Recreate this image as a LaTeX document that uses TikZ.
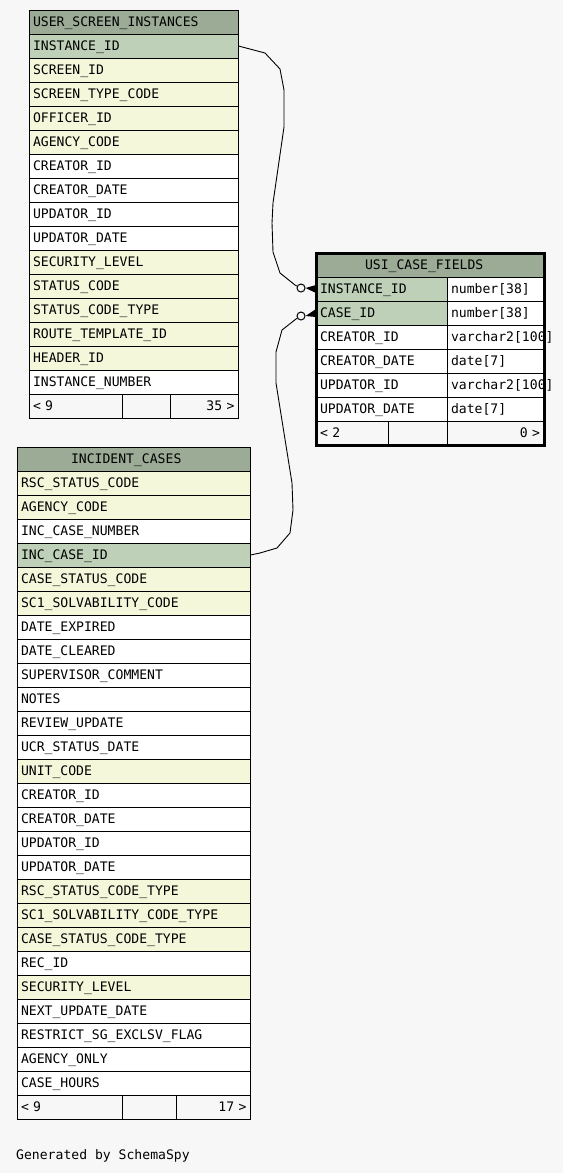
\documentclass[tikz,border=0pt]{standalone}
\usepackage{fontspec}
\usepackage{tikz}
\usetikzlibrary{calc,positioning}
\newfontfamily\schemafont{DejaVu Sans Mono}
\newcommand{\colfont}{\schemafont\fontsize{13.1}{15}\selectfont}
\definecolor{bgcol}{HTML}{F7F7F7}
\definecolor{headcol}{HTML}{9BAB96}
\definecolor{pkcol}{HTML}{BED1B8}
\definecolor{ixcol}{HTML}{F4F7DA}
\tikzset{
  cell/.style={draw=black, line width=1pt, anchor=north west, outer sep=0pt,
               inner xsep=4pt, inner ysep=0pt, minimum height=24pt,
               text height=9.6pt, text depth=0pt, font=\colfont, align=left},
  headcell/.style={cell, fill=headcol},
  footcell/.style={cell, fill=bgcol},
  ring/.style={circle, draw=black, fill=bgcol, line width=1pt,
               minimum size=8pt, inner sep=0pt},
  relline/.style={black, line width=0.9pt},
}

\begin{document}
\begin{tikzpicture}[x=1pt,y=-1pt]
  \fill[bgcol] (0,0) rectangle (563,1173);
  \useasboundingbox (0,0) rectangle (563,1173);
  % USER_SCREEN_INSTANCES tablosu
  \node[headcell, text width=201.5pt] (usihead) at (29,10) {USER\_SCREEN\_INSTANCES};
  \foreach \name/\c [count=\k] in {INSTANCE\_ID/pkcol, SCREEN\_ID/ixcol,
      SCREEN\_TYPE\_CODE/ixcol, OFFICER\_ID/ixcol, AGENCY\_CODE/ixcol,
      CREATOR\_ID/white, CREATOR\_DATE/white, UPDATOR\_ID/white, UPDATOR\_DATE/white,
      SECURITY\_LEVEL/ixcol, STATUS\_CODE/ixcol, STATUS\_CODE\_TYPE/ixcol,
      ROUTE\_TEMPLATE\_ID/ixcol, HEADER\_ID/ixcol, INSTANCE\_NUMBER/white}{
    \node[cell, fill=\c, text width=201.5pt] (usi\k) at (29,10+24*\k) {\name};
  }
  \node[footcell, text width=85pt] (usifootA) at (29,394) {< 9};
  \node[footcell, text width=40pt] (usifootB) at (122,394) {};
  \node[footcell, text width=60.5pt, align=right] (usifootC) at (170,394) {35 >};

  % INCIDENT_CASES tablosu
  \node[headcell, text width=225.5pt] (inchead) at (17,447) {\hspace*{50pt}INCIDENT\_CASES};
  \foreach \name/\c [count=\k] in {RSC\_STATUS\_CODE/ixcol, AGENCY\_CODE/ixcol,
      INC\_CASE\_NUMBER/white, INC\_CASE\_ID/pkcol, CASE\_STATUS\_CODE/ixcol,
      SC1\_SOLVABILITY\_CODE/ixcol, DATE\_EXPIRED/white, DATE\_CLEARED/white,
      SUPERVISOR\_COMMENT/white, NOTES/white, REVIEW\_UPDATE/white,
      UCR\_STATUS\_DATE/white, UNIT\_CODE/ixcol, CREATOR\_ID/white,
      CREATOR\_DATE/white, UPDATOR\_ID/white, UPDATOR\_DATE/white,
      RSC\_STATUS\_CODE\_TYPE/ixcol, SC1\_SOLVABILITY\_CODE\_TYPE/ixcol,
      CASE\_STATUS\_CODE\_TYPE/ixcol, REC\_ID/white, SECURITY\_LEVEL/ixcol,
      NEXT\_UPDATE\_DATE/white, RESTRICT\_SG\_EXCLSV\_FLAG/white,
      AGENCY\_ONLY/white, CASE\_HOURS/white}{
    \node[cell, fill=\c, text width=225.5pt] (inc\k) at (17,447+24*\k) {\name};
  }
  \node[footcell, text width=97pt] (incfootA) at (17,1095) {< 9};
  \node[footcell, text width=46pt] (incfootB) at (122,1095) {};
  \node[footcell, text width=66.5pt, align=right] (incfootC) at (176,1095) {17 >};

  % USI_CASE_FIELDS tablosu (secili, kalin cerceve)
  \node[headcell, text width=220pt] (ucfhead) at (316,253) {\hspace*{45pt}USI\_CASE\_FIELDS};
  \foreach \name/\type/\c [count=\k] in {INSTANCE\_ID/number[38]/pkcol,
      CASE\_ID/number[38]/pkcol, CREATOR\_ID/varchar2[100]/white,
      CREATOR\_DATE/date[7]/white, UPDATOR\_ID/varchar2[100]/white,
      UPDATOR\_DATE/date[7]/white}{
    \node[cell, fill=\c, text width=123pt] (ucf\k) at (316,253+24*\k) {\name};
    \node[cell, fill=white, text width=89pt] (ucft\k) at (447,253+24*\k) {\type};
  }
  \node[footcell, text width=64pt] (ucffootA) at (316,421) {< 2};
  \node[footcell, text width=51pt] (ucffootB) at (388,421) {};
  \node[footcell, text width=89pt, align=right] (ucffootC) at (447,421) {0 >};
  \draw[line width=3pt] (ucfhead.north west) rectangle (ucffootC.south east);

  % iliskiler: halka + kaz ayagi
  \node[ring] (ring1) at (301,288) {};
  \node[ring] (ring2) at (301,316) {};
  \draw[relline] (usi1.east) -- (265,53) -- (280,69) -- (284,90) -- (284,127)
    -- (273,203) -- (272,223) -- (273,252) -- (280,273) -- (295,285) -- (ring1);
  \draw[relline] (inc4.east) -- (260,553) -- (277,548) -- (290,533) -- (293,510)
    -- (292,483) -- (276,383) -- (276,352) -- (282,330) -- (296,319) -- (ring2);
  \fill (ring1.east) -- ([yshift=4pt]ucf1.west) -- ([yshift=-4pt]ucf1.west) -- cycle;
  \fill (ring2.east) -- ([yshift=4pt]ucf2.west) -- ([yshift=-4pt]ucf2.west) -- cycle;

  \node[anchor=base west, inner sep=0pt, font=\colfont] (credit) at (16,1159) {Generated by SchemaSpy};
\end{tikzpicture}
\end{document}
